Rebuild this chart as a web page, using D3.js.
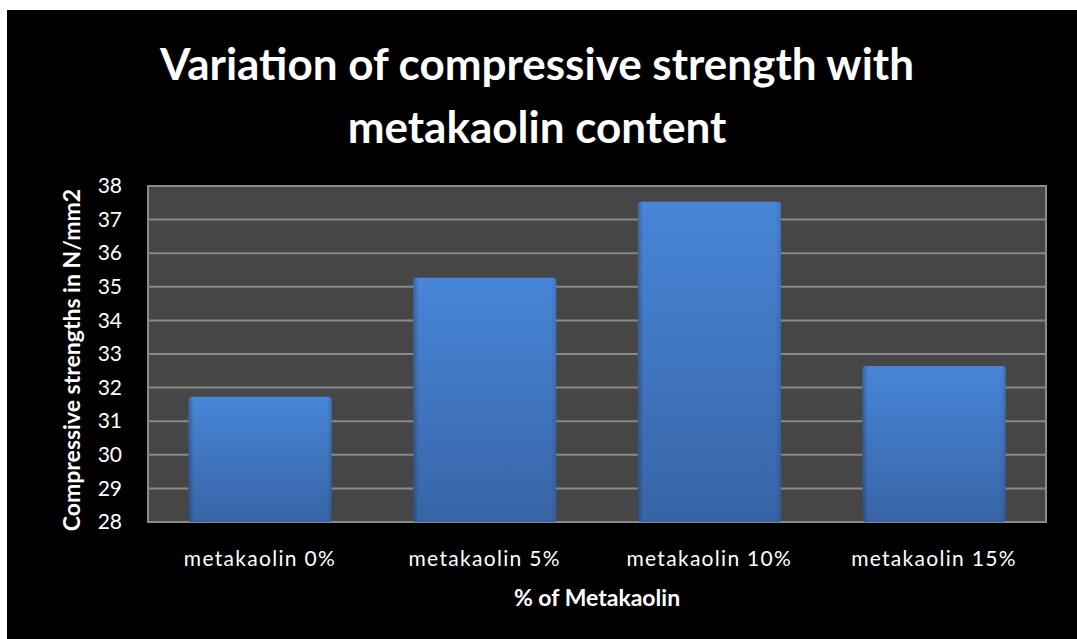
<!DOCTYPE html>
<html><head><meta charset="utf-8">
<script src="https://cdn.jsdelivr.net/npm/d3@7/dist/d3.min.js"></script>
<style>
html,body{margin:0;padding:0;background:#fff;}
svg{display:block;}
text{font-family:Lato,"Open Sans",sans-serif;}
</style></head>
<body><svg id="c" width="1077" height="639"></svg>
<script>
const categories = ["metakaolin 0%","metakaolin 5%","metakaolin 10%","metakaolin 15%"];
const strengths = [31.73, 35.27, 37.53, 32.64];
const yTicks = [28,29,30,31,32,33,34,35,36,37,38];
const titleLines = ["Variation of compressive strength with","metakaolin content"];
const yTitle = "Compressive strengths in N/mm2";
const xTitle = "% of Metakaolin";

const svg = d3.select("#c");
const W = 1077, H = 639;
svg.append("rect").attr("x",7).attr("y",10).attr("width",W-7).attr("height",H-10).attr("fill","#000");

const m = {l:148, r:1046, t:186, b:522};
const x = d3.scaleBand().domain(categories).range([m.l,m.r]).paddingInner(0.363).paddingOuter(0.18);
const y = d3.scaleLinear().domain([28,38]).range([m.b,m.t]);

const defs = svg.append("defs");
const g1 = defs.append("linearGradient").attr("id","bar").attr("x1",0).attr("y1",0).attr("x2",0).attr("y2",1);
g1.append("stop").attr("offset","0%").attr("stop-color","#4886d8");
g1.append("stop").attr("offset","100%").attr("stop-color","#3864a6");
const g2 = defs.append("linearGradient").attr("id","barh").attr("x1",0).attr("y1",0).attr("x2",1).attr("y2",0);
g2.append("stop").attr("offset","0%").attr("stop-color","#000").attr("stop-opacity",0.25);
g2.append("stop").attr("offset","4%").attr("stop-color","#000").attr("stop-opacity",0);
g2.append("stop").attr("offset","96%").attr("stop-color","#000").attr("stop-opacity",0);
g2.append("stop").attr("offset","100%").attr("stop-color","#000").attr("stop-opacity",0.12);

// plot area
svg.append("rect").attr("x",m.l).attr("y",m.t).attr("width",m.r-m.l).attr("height",m.b-m.t)
  .attr("fill","#464646").attr("stroke","#8a8a8a").attr("stroke-width",2);

// gridlines
svg.append("g").selectAll("line").data(yTicks).join("line")
  .attr("x1",m.l).attr("x2",m.r).attr("y1",d=>y(d)).attr("y2",d=>y(d))
  .attr("stroke","#898989").attr("stroke-width",2);

// bars
const bars = svg.append("g");
bars.selectAll("rect.b").data(strengths).join("rect").attr("class","b")
  .attr("x",(d,i)=>x(categories[i])).attr("width",x.bandwidth())
  .attr("y",d=>y(d)).attr("height",d=>y(28)-y(d)).attr("rx",3)
  .attr("fill","url(#bar)");
bars.selectAll("rect.s").data(strengths).join("rect").attr("class","s")
  .attr("x",(d,i)=>x(categories[i])).attr("width",x.bandwidth())
  .attr("y",d=>y(d)).attr("height",d=>y(28)-y(d)).attr("rx",3)
  .attr("fill","url(#barh)");

// y axis labels
const ya = svg.append("g").attr("transform",`translate(${m.l},0)`)
  .call(d3.axisLeft(y).tickValues(yTicks).tickSize(0).tickPadding(26).tickFormat(d3.format("d")));
ya.select(".domain").remove();
ya.selectAll("text").attr("fill","#fff").style("font-size","21px").style("font-family","Lato, sans-serif");

// x axis labels
const xa = svg.append("g").attr("transform",`translate(0,${m.b})`)
  .call(d3.axisBottom(x).tickSize(0).tickPadding(29));
xa.select(".domain").remove();
xa.selectAll("text").attr("fill","#fff").style("font-size","21px").style("font-family","Lato, sans-serif").attr("letter-spacing","1.3px");

// titles
svg.append("g").selectAll("text").data(titleLines).join("text")
  .attr("x",537).attr("y",(d,i)=>80+i*63).attr("text-anchor","middle")
  .attr("fill","#fff").style("font-size","44px").style("font-weight","bold").text(d=>d);

svg.append("text").attr("transform",`translate(80,360) rotate(-90)`)
  .attr("text-anchor","middle").attr("fill","#fff").style("font-size","23px").style("font-weight","bold").text(yTitle);

svg.append("text").attr("x",597).attr("y",606).attr("text-anchor","middle")
  .attr("fill","#fff").style("font-size","23px").style("font-weight","bold").text(xTitle);
</script></body></html>
